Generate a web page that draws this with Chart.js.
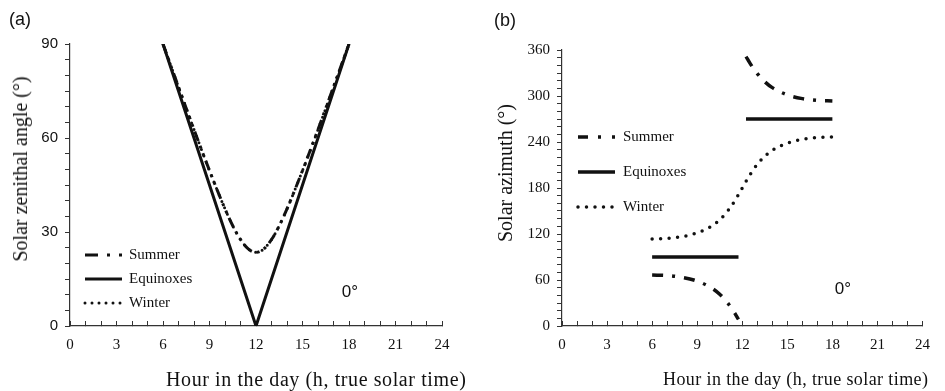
<!DOCTYPE html>
<html>
<head>
<meta charset="utf-8">
<script src="https://cdn.jsdelivr.net/npm/chart.js@4.4.1/dist/chart.umd.min.js"></script>
<style>
  body { margin: 0; background: #fff; }
  #wrap { position: relative; width: 945px; height: 391px; overflow: hidden; background: #fff; }
  canvas { position: absolute; top: 0; }
  .lbl { position: absolute; white-space: nowrap; color: #111; line-height: 1; transform: translate(-50%, -50%); }
  .sans { font-family: 'Liberation Sans', Arial, sans-serif; }
  .serif { font-family: 'Liberation Serif', 'Times New Roman', serif; font-size: 20px; }
  .xt { transform: translate(0, -50%); }
  .yt { transform: translate(-50%, -50%) rotate(-90deg); }
</style>
</head>
<body>
<div id="wrap">
  <canvas id="chartA" width="470" height="391" style="left:0"></canvas>
  <canvas id="chartB" width="470" height="391" style="left:475px"></canvas>

  <div class="lbl sans" style="left:20px; top:19px; font-size:18px;">(a)</div>
  <div class="lbl sans" style="left:505px; top:20px; font-size:18px;">(b)</div>
  <div class="lbl sans" style="left:350px; top:291px; font-size:17px;">0°</div>
  <div class="lbl sans" style="left:843px; top:288px; font-size:17px;">0°</div>

  <div class="lbl serif yt" style="left:20px; top:169px;">Solar zenithal angle (°)</div>
  <div class="lbl serif yt" style="left:505px; top:173px;">Solar azimuth (°)</div>
  <div class="lbl serif xt" style="left:166px; top:379px; letter-spacing:0.6px;">Hour in the day (h, true solar time)</div>
  <div class="lbl serif xt" style="left:663px; top:379px; font-size:18px; letter-spacing:0.4px;">Hour in the day (h, true solar time)</div>
</div>

<script>
// ── Data ──────────────────────────────────────
// (a) solar zenith angle, latitude 0°
const hoursA        = [6, 7, 8, 9, 10, 10.5, 11, 11.5, 12, 12.5, 13, 13.5, 14, 15, 16, 17, 18];
const summerZenith  = [90, 76.3, 62.7, 49.6, 37.4, 32.0, 27.6, 24.6, 23.5, 24.6, 27.6, 32.0, 37.4, 49.6, 62.7, 76.3, 90];
const equinoxZenith = [90, 75, 60, 45, 30, 22.5, 15, 7.5, 0, 7.5, 15, 22.5, 30, 45, 60, 75, 90];
const winterZenith  = [90, 76.3, 62.7, 49.6, 37.4, 32.0, 27.6, 24.6, 23.5, 24.6, 27.6, 32.0, 37.4, 49.6, 62.7, 76.3, 90];

// (b) solar azimuth, latitude 0°
const hoursAm     = [6, 7, 8, 9, 10, 10.5, 11, 11.5, 11.75];
const hoursPm     = [12.25, 12.5, 13, 13.5, 14, 15, 16, 17, 18];
const summerAzAm  = [66.5, 65.8, 63.4, 58.5, 49.1, 41.4, 30.8, 16.8, 8.6];
const summerAzPm  = [351.4, 343.2, 329.2, 318.6, 310.9, 301.5, 296.6, 294.2, 293.5];
const equinoxAzAm = [90, 90, 90, 90, 90, 90, 90, 90, 90];
const equinoxAzPm = [270, 270, 270, 270, 270, 270, 270, 270, 270];
const hoursB      = [6, 7, 8, 9, 10, 10.5, 11, 11.5, 11.75, 12, 12.25, 12.5, 13, 13.5, 14, 15, 16, 17, 18];
const winterAz    = [113.5, 114.2, 116.6, 121.5, 130.9, 138.6, 149.2, 163.2, 171.4, 180, 188.6, 196.8, 210.8, 221.4, 229.1, 238.5, 243.4, 245.8, 246.5];

const seriesLabels = ['Summer', 'Equinoxes', 'Winter'];

// ── Helpers ───────────────────────────────────
const pts = (xs, ys) => xs.map((x, i) => ({ x, y: ys[i] }));
const gap = { x: 12, y: null };

const SERIF = "'Liberation Serif', 'Times New Roman', serif";
const SANS  = "'Liberation Sans', Arial, sans-serif";
const INK   = '#111';
const AXIS  = '#333';

// legend drawn inside the plot area
const insideLegend = {
  id: 'insideLegend',
  afterDatasetsDraw(chart, args, opts) {
    const ctx = chart.ctx;
    ctx.save();
    chart.data.datasets.forEach((ds, i) => {
      const y = opts.top + i * opts.gap;
      ctx.beginPath();
      ctx.setLineDash(ds.legendDash || ds.borderDash || []);
      ctx.lineWidth = ds.borderWidth;
      ctx.lineCap = ds.borderCapStyle || 'butt';
      ctx.strokeStyle = ds.borderColor;
      ctx.moveTo(opts.left, y);
      ctx.lineTo(opts.left + opts.length, y);
      ctx.stroke();
      ctx.setLineDash([]);
      ctx.fillStyle = INK;
      ctx.font = `15px ${SERIF}`;
      ctx.textBaseline = 'middle';
      ctx.textAlign = 'left';
      ctx.fillText(ds.label, opts.left + opts.length + opts.space, y);
    });
    ctx.restore();
  }
};

function makeChart(id, datasets, y, box, legend) {
  return new Chart(document.getElementById(id), {
    type: 'scatter',
    data: { datasets },
    options: {
      responsive: false,
      animation: false,
      layout: { padding: { left: 0, right: box.right, top: box.top, bottom: 0 } },
      elements: { point: { radius: 0, hoverRadius: 0 } },
      plugins: {
        legend: { display: false },
        tooltip: { enabled: false },
        insideLegend: legend
      },
      scales: {
        x: {
          type: 'linear',
          min: 0, max: 24,
          afterFit: s => { s.height = 65; },
          ticks: {
            stepSize: 1, autoSkip: false, maxRotation: 0,
            callback: v => (v % 3 === 0 ? v : ''),
            color: INK, padding: 15,
            font: { family: SERIF, size: 15 }
          },
          grid: { drawOnChartArea: false, drawTicks: true, tickLength: -5, color: AXIS },
          border: { color: AXIS, width: 1.2 }
        },
        y: {
          type: 'linear',
          min: 0, max: y.max,
          afterFit: s => { s.width = box.left; },
          ticks: {
            stepSize: y.step, autoSkip: false,
            callback: v => (v % y.labelEvery === 0 ? v : ''),
            color: INK, padding: 7,
            font: { family: y.font, size: 15 }
          },
          grid: { drawOnChartArea: false, drawTicks: true, tickLength: 5, color: AXIS },
          border: { color: AXIS, width: 1.2 }
        }
      }
    },
    plugins: [insideLegend]
  });
}

// ── (a) zenith angle ──────────────────────────
makeChart('chartA', [
  {
    label: seriesLabels[0],
    data: pts(hoursA, summerZenith),
    showLine: true, borderColor: INK, borderWidth: 3,
    borderDash: [10, 5, 3, 5, 3, 5], legendDash: [13, 9, 3, 9, 3, 20],
    cubicInterpolationMode: 'monotone'
  },
  {
    label: seriesLabels[1],
    data: pts(hoursA, equinoxZenith),
    showLine: true, borderColor: INK, borderWidth: 3, tension: 0
  },
  {
    label: seriesLabels[2],
    data: pts(hoursA, winterZenith),
    showLine: true, borderColor: INK, borderWidth: 3,
    borderDash: [0, 7], borderCapStyle: 'round',
    cubicInterpolationMode: 'monotone'
  }
], { max: 90, step: 5, labelEvery: 30, font: SANS },
   { left: 70, right: 28, top: 44 },
   { left: 85, length: 37, space: 7, top: 255, gap: 24 });

// ── (b) azimuth ───────────────────────────────
makeChart('chartB', [
  {
    label: seriesLabels[0],
    data: [...pts(hoursAm, summerAzAm), gap, ...pts(hoursPm, summerAzPm)],
    showLine: true, spanGaps: false, borderColor: INK, borderWidth: 3.5,
    borderDash: [11, 9, 3, 9], legendDash: [10, 10, 3, 11, 3, 20],
    cubicInterpolationMode: 'monotone'
  },
  {
    label: seriesLabels[1],
    data: [...pts(hoursAm, equinoxAzAm), gap, ...pts(hoursPm, equinoxAzPm)],
    showLine: true, spanGaps: false, borderColor: INK, borderWidth: 3.5, tension: 0
  },
  {
    label: seriesLabels[2],
    data: pts(hoursB, winterAz),
    showLine: true, borderColor: INK, borderWidth: 3.5,
    borderDash: [0, 8.5], borderCapStyle: 'round',
    cubicInterpolationMode: 'monotone'
  }
], { max: 360, step: 10, labelEvery: 60, font: SERIF },
   { left: 87, right: 13, top: 50 },
   { left: 103, length: 37, space: 8, top: 137, gap: 35 });
</script>
</body>
</html>
